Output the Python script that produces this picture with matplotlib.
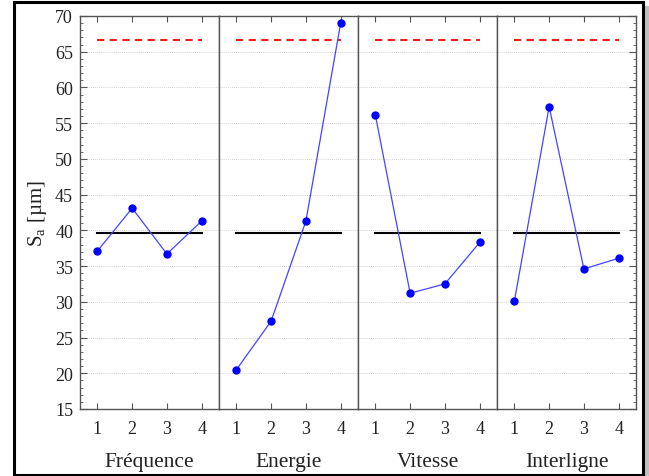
import numpy as np
import matplotlib.pyplot as plt
from matplotlib.patches import Rectangle
from matplotlib.ticker import MultipleLocator

plt.rcParams['font.family'] = ['Liberation Serif', 'DejaVu Serif']

# factor names and level labels
factors = ['Fréquence', 'Energie', 'Vitesse', 'Interligne']
levels = [1, 2, 3, 4]

# mean Sa per level
sa_frequence = [37.1, 43.1, 36.7, 41.3]
sa_energie = [20.5, 27.3, 41.3, 69.0]
sa_vitesse = [56.1, 31.2, 32.5, 38.3]
sa_interligne = [30.1, 57.3, 34.6, 36.1]
series = [sa_frequence, sa_energie, sa_vitesse, sa_interligne]

grand_mean = 39.6
limit = 66.6

fig, axes = plt.subplots(1, 4, figsize=(6.49, 4.77), dpi=100, sharey=True)
fig.subplots_adjust(left=0.1233, right=0.980, top=0.9644, bottom=0.1405, wspace=0)

spine_col = '#555555'
for i, (ax, name, vals) in enumerate(zip(axes, factors, series)):
    ax.yaxis.grid(True, linestyle=(0, (1, 1.5)), color='#c4c4c4', linewidth=0.6)
    ax.set_axisbelow(True)
    ax.plot([levels[0], levels[-1]], [limit, limit], color='red', linestyle=(0, (4, 3)), linewidth=1.3)
    ax.plot([levels[0], levels[-1]], [grand_mean, grand_mean], color='black', linewidth=1.5)
    ax.plot(levels, vals, color='#4444ff', linewidth=0.9, marker='o', markersize=5,
            markerfacecolor='blue', markeredgecolor='blue')
    ax.set_xlim(0.5, 4.5)
    ax.set_ylim(15, 70)
    ax.set_xticks(levels)
    ax.yaxis.set_major_locator(MultipleLocator(5))
    ax.yaxis.set_minor_locator(MultipleLocator(1))
    ax.tick_params(axis='both', which='both', direction='in', colors=spine_col,
                   labelcolor='#222222', labelsize=13)
    ax.tick_params(axis='x', which='major', top=True, length=4, pad=8)
    ax.tick_params(axis='y', which='major', length=5, left=(i == 0), right=(i == 3), pad=5)
    ax.tick_params(axis='y', which='minor', length=2.5, left=(i == 0), right=(i == 3))
    for s in ax.spines.values():
        s.set_color(spine_col)
        s.set_linewidth(1.0)
    ax.set_xlabel(name, fontsize=15.5, labelpad=11, color='#222222')

axes[0].set_ylabel('S$_\\mathregular{a}$ [µm]', fontsize=15, labelpad=4, color='#222222')

# outer frame with grey shadow
fig.patches.append(Rectangle((645 / 649, 0), 4 / 649, 470 / 477, transform=fig.transFigure,
                             facecolor='#c0c0c0', edgecolor='none', zorder=0))
fig.patches.append(Rectangle((14 / 649, 1.5 / 477), 629 / 649, 473 / 477, transform=fig.transFigure,
                             facecolor='none', edgecolor='black', linewidth=2.2, zorder=5))

fig.savefig('out.png', dpi=100)
